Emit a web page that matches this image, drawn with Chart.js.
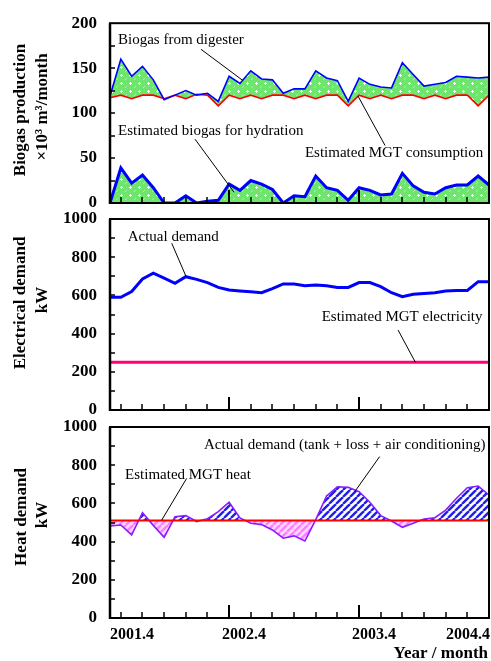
<!DOCTYPE html>
<html>
<head>
<meta charset="utf-8">
<script src="https://cdn.jsdelivr.net/npm/chart.js@4"></script>
<style>
  html, body { margin: 0; padding: 0; background: #fff; }
  #wrap { position: relative; width: 491px; height: 661px; }
  #wrap canvas { position: absolute; left: 0; top: 0; }
</style>
</head>
<body>
<div id="wrap">
  <canvas id="biogasChart" width="491" height="661"></canvas>
  <canvas id="elecChart" width="491" height="661"></canvas>
  <canvas id="heatChart" width="491" height="661"></canvas>
</div>
<script>
// --- Data (monthly, 2001.5 .. 2004.4) ---
const months = [
  '2001.5', '2001.6', '2001.7', '2001.8', '2001.9', '2001.10', '2001.11', '2001.12',
  '2002.1', '2002.2', '2002.3', '2002.4', '2002.5', '2002.6', '2002.7', '2002.8',
  '2002.9', '2002.10', '2002.11', '2002.12', '2003.1', '2003.2', '2003.3', '2003.4',
  '2003.5', '2003.6', '2003.7', '2003.8', '2003.9', '2003.10', '2003.11', '2003.12',
  '2004.1', '2004.2', '2004.3', '2004.4'
];
const xTickLabels = ['2001.4', '2002.4', '2003.4', '2004.4'];

// biogas, x10^3 m3/month
const biogasDigester = [119, 160, 141, 152, 137, 115, 120, 125, 120, 122, 113, 141,
  133, 147, 138, 137, 122, 127, 127, 147, 139, 136, 113, 139,
  132, 129, 128, 156, 143, 130, 132, 134, 141, 140, 139, 140];
const mgtConsumption = [117, 120, 116, 120, 120, 116, 120, 116, 121, 120, 108, 120,
  116, 120, 116, 120, 120, 116, 120, 116, 120, 120, 108, 120,
  116, 120, 116, 120, 120, 116, 120, 116, 120, 120, 108, 120];
const biogasHydration = [0, 39, 22, 31, 17, 0, 0, 8, 0, 2, 3, 21,
  14, 25, 21, 15, 0, 8, 7, 30, 17, 14, 3, 17,
  14, 9, 10, 33, 19, 12, 10, 17, 20, 20, 30, 20];

// electricity, kW
const elecDemand = [590, 590, 620, 686, 716, 690, 663, 698, 684, 667, 642, 628,
  623, 619, 614, 635, 660, 660, 651, 655, 650, 642, 642, 667,
  667, 646, 614, 593, 606, 610, 614, 623, 626, 626, 672, 672];
const mgtElectricity = [250, 250, 250, 250, 250, 250, 250, 250, 250, 250, 250, 250,
  250, 250, 250, 250, 250, 250, 250, 250, 250, 250, 250, 250,
  250, 250, 250, 250, 250, 250, 250, 250, 250, 250, 250, 250];

// heat, kW
const heatDemand = [482, 487, 435, 551, 485, 422, 530, 536, 505, 520, 557, 606,
  524, 496, 489, 461, 418, 430, 403, 515, 639, 687, 684, 661,
  606, 536, 508, 475, 496, 518, 525, 565, 627, 682, 691, 644];
const mgtHeat = [510, 510, 510, 510, 510, 510, 510, 510, 510, 510, 510, 510,
  510, 510, 510, 510, 510, 510, 510, 510, 510, 510, 510, 510,
  510, 510, 510, 510, 510, 510, 510, 510, 510, 510, 510, 510];

const SERIF = "'Liberation Serif', 'Times New Roman', serif";

// --- Fill patterns ---
function dotPattern() {
  const c = document.createElement('canvas');
  c.width = 9; c.height = 8;
  const g = c.getContext('2d');
  g.fillStyle = '#6ee66e';
  g.fillRect(0, 0, 9, 8);
  g.fillStyle = '#ffffff';
  g.fillRect(4, 2, 1, 3);
  g.fillRect(3, 3, 3, 1);
  g.fillStyle = '#a6f5a6';
  g.fillRect(0, 6, 1, 1);
  g.fillRect(8, 7, 1, 1);
  return g.createPattern(c, 'repeat');
}

function stripePattern(fg, bg) {
  const s = 7;
  const c = document.createElement('canvas');
  c.width = s; c.height = s;
  const g = c.getContext('2d');
  g.fillStyle = bg;
  g.fillRect(0, 0, s, s);
  g.strokeStyle = fg;
  g.lineWidth = 2.4;
  for (const o of [-s, 0, s]) {
    g.beginPath();
    g.moveTo(o, s);
    g.lineTo(o + s, 0);
    g.stroke();
  }
  return g.createPattern(c, 'repeat');
}

// --- Frame, ticks, titles and notes ---
const decoPlugin = {
  id: 'deco',
  afterDatasetsDraw(chart, args, opts) {
    const { ctx, chartArea: a, scales: { x, y } } = chart;
    ctx.save();
    ctx.strokeStyle = '#000';
    ctx.fillStyle = '#000';

    // inward ticks on the y axis
    ctx.lineWidth = 1.5;
    for (let v = y.min + opts.yTick; v < y.max; v += opts.yTick) {
      const py = Math.round(y.getPixelForValue(v));
      ctx.beginPath();
      ctx.moveTo(a.left, py);
      ctx.lineTo(a.left + 5, py);
      ctx.stroke();
    }
    // ticks at even months, longer at April
    months.forEach((m, i) => {
      const mon = +m.split('.')[1];
      if (mon % 2) return;
      const px = Math.round(x.getPixelForValue(i));
      ctx.lineWidth = mon === 4 ? 2 : 1.5;
      ctx.beginPath();
      ctx.moveTo(px, a.bottom);
      ctx.lineTo(px, a.bottom - (mon === 4 ? 13 : 6));
      ctx.stroke();
    });

    // frame
    ctx.lineWidth = 2;
    ctx.strokeRect(a.left, a.top, a.right - a.left, a.bottom - a.top);
    ctx.lineWidth = 2.5;
    ctx.beginPath();
    ctx.moveTo(a.left, a.top);
    ctx.lineTo(a.left, a.bottom + 1);
    ctx.stroke();

    // axis title (rotated)
    ctx.font = 'bold 17px ' + SERIF;
    ctx.textAlign = 'center';
    ctx.textBaseline = 'middle';
    opts.title.forEach((t) => {
      ctx.save();
      ctx.translate(t.x, t.y);
      ctx.rotate(-Math.PI / 2);
      ctx.fillText(t.text, 0, 0);
      ctx.restore();
    });

    // notes with leader lines
    ctx.font = '15px ' + SERIF;
    ctx.textAlign = 'left';
    ctx.lineWidth = 1;
    opts.notes.forEach((n) => {
      ctx.fillText(n.text, x.getPixelForValue(n.at[0]), y.getPixelForValue(n.at[1]));
      ctx.beginPath();
      ctx.moveTo(x.getPixelForValue(n.from[0]), y.getPixelForValue(n.from[1]));
      ctx.lineTo(x.getPixelForValue(n.to[0]), y.getPixelForValue(n.to[1]));
      ctx.stroke();
    });

    // x labels (bottom panel only)
    if (opts.xLabels) {
      ctx.font = 'bold 16px ' + SERIF;
      ctx.textBaseline = 'middle';
      xTickLabels.forEach((lab) => {
        const i = months.indexOf(lab);
        const w = ctx.measureText(lab).width;
        let px = i < 0 ? a.left : x.getPixelForValue(i) - 7;
        px = Math.min(Math.max(px, a.left), a.right + 1 - w);
        ctx.fillText(lab, px, a.bottom + 17);
      });
      ctx.font = 'bold 17px ' + SERIF;
      ctx.textAlign = 'right';
      ctx.fillText('Year / month', a.right - 1, a.bottom + 36);
    }
    ctx.restore();
  }
};

function makePanel(id, cfg) {
  return new Chart(document.getElementById(id), {
    type: 'line',
    data: { labels: months, datasets: cfg.datasets },
    options: {
      responsive: false,
      animation: false,
      events: [],
      layout: { padding: cfg.padding },
      elements: { point: { radius: 0 }, line: { tension: 0 } },
      plugins: {
        legend: { display: false },
        tooltip: { enabled: false },
        filler: { drawTime: 'beforeDatasetsDraw' },
        deco: cfg.deco
      },
      scales: {
        x: { display: false },
        y: {
          min: 0,
          max: cfg.yMax,
          afterFit: (s) => { s.width = 110; },
          grid: { display: false, drawTicks: false },
          border: { display: false },
          ticks: {
            stepSize: cfg.yStep,
            padding: 13,
            color: '#000',
            font: { family: SERIF, size: 17, weight: 'bold' },
            callback: (v) => String(v)
          }
        }
      }
    },
    plugins: [decoPlugin]
  });
}

// --- Panel 1: biogas ---
const green = dotPattern();
makePanel('biogasChart', {
  padding: { top: 13, bottom: 458, left: 0, right: 2 },
  yMax: 200,
  yStep: 50,
  datasets: [
    { data: biogasDigester, borderColor: '#0000ff', borderWidth: 1.6,
      fill: { target: 1, above: green, below: green } },
    { data: mgtConsumption, borderColor: '#ff0000', borderWidth: 1.6, fill: false },
    { data: biogasHydration, borderColor: '#0000ff', borderWidth: 3,
      fill: { target: 'origin', above: green, below: green } }
  ],
  deco: {
    yTick: 25,
    title: [
      { text: 'Biogas production', x: 21, y: 110 },
      { text: '\u00d710\u00b3 m\u00b3/month', x: 43, y: 107 }
    ],
    notes: [
      { text: 'Biogas from digester', at: [0.74, 181], from: [8.4, 171], to: [12.3, 136] },
      { text: 'Estimated biogas for hydration', at: [0.74, 80], from: [7.85, 71], to: [11.45, 12] },
      { text: 'Estimated MGT consumption', at: [18.0, 55], from: [25.4, 64], to: [22.9, 119] }
    ]
  }
});

// --- Panel 2: electrical demand ---
makePanel('elecChart', {
  padding: { top: 219, bottom: 251, left: 0, right: 2 },
  yMax: 1000,
  yStep: 200,
  datasets: [
    { data: elecDemand, borderColor: '#0000ff', borderWidth: 3, fill: false },
    { data: mgtElectricity, borderColor: '#ff0077', borderWidth: 3, fill: false }
  ],
  deco: {
    yTick: 100,
    title: [
      { text: 'Electrical demand', x: 21, y: 303 },
      { text: 'kW', x: 43, y: 300 }
    ],
    notes: [
      { text: 'Actual demand', at: [1.63, 907], from: [5.7, 873], to: [7.0, 702] },
      { text: 'Estimated MGT electricity', at: [19.55, 488], from: [26.6, 419], to: [28.2, 250] }
    ]
  }
});

// --- Panel 3: heat demand ---
const blueHatch = stripePattern('#1f1fe8', '#ffffff');
const pinkHatch = stripePattern('#ff7dff', '#ffd9ff');
makePanel('heatChart', {
  padding: { top: 427, bottom: 43, left: 0, right: 2 },
  yMax: 1000,
  yStep: 200,
  datasets: [
    { data: mgtHeat, borderColor: '#ff0000', borderWidth: 2, fill: false },
    { data: heatDemand, borderColor: '#8a1cff', borderWidth: 1.6,
      fill: { target: 0, above: blueHatch, below: pinkHatch } }
  ],
  deco: {
    yTick: 100,
    xLabels: true,
    title: [
      { text: 'Heat demand', x: 22, y: 517 },
      { text: 'kW', x: 43, y: 515 }
    ],
    notes: [
      { text: 'Actual demand (tank + loss + air conditioning)', at: [8.68, 906], from: [24.9, 845], to: [22.6, 661] },
      { text: 'Estimated MGT heat', at: [1.39, 749], from: [7.08, 731], to: [4.77, 512] }
    ]
  }
});
</script>
</body>
</html>
